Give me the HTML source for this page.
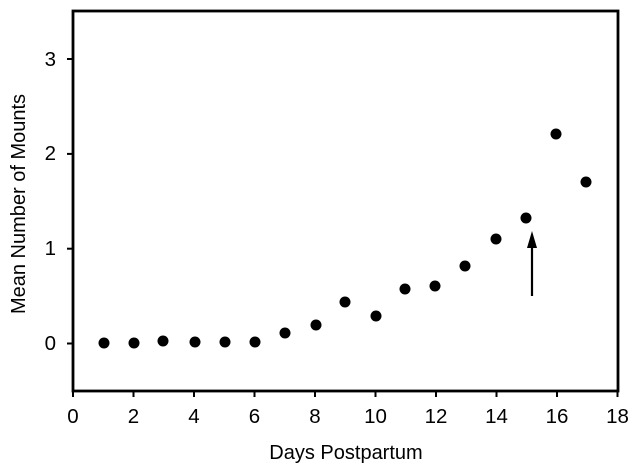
<!DOCTYPE html>
<html><head><style>body{margin:0;background:#fff}</style></head><body>
<svg width="640" height="469" xmlns="http://www.w3.org/2000/svg" font-family="Liberation Sans, Arial, sans-serif" fill="#000">
<rect x="73" y="11" width="545" height="380" fill="none" stroke="#000" stroke-width="2.8"/>
<g stroke="#000" stroke-width="2">
<line x1="73" y1="391" x2="73" y2="397"/><line x1="133.5" y1="391" x2="133.5" y2="397"/><line x1="194" y1="391" x2="194" y2="397"/><line x1="254.5" y1="391" x2="254.5" y2="397"/><line x1="315" y1="391" x2="315" y2="397"/><line x1="375.5" y1="391" x2="375.5" y2="397"/><line x1="436" y1="391" x2="436" y2="397"/><line x1="496.5" y1="391" x2="496.5" y2="397"/><line x1="557" y1="391" x2="557" y2="397"/><line x1="617.5" y1="391" x2="617.5" y2="397"/>
<line x1="67" y1="343.5" x2="73" y2="343.5"/><line x1="67" y1="248.7" x2="73" y2="248.7"/><line x1="67" y1="153.9" x2="73" y2="153.9"/><line x1="67" y1="59" x2="73" y2="59"/>
</g>
<g font-size="20.5" text-anchor="middle">
<text x="73" y="423">0</text><text x="133.5" y="423">2</text><text x="194" y="423">4</text><text x="254.5" y="423">6</text><text x="315" y="423">8</text><text x="375.5" y="423">10</text><text x="436" y="423">12</text><text x="496.5" y="423">14</text><text x="557" y="423">16</text><text x="617.5" y="423">18</text>
</g>
<g font-size="20.5" text-anchor="end">
<text x="56" y="350">0</text><text x="56" y="255">1</text><text x="56" y="160">2</text><text x="56" y="66">3</text>
</g>
<text x="346" y="459" font-size="20" text-anchor="middle">Days Postpartum</text>
<text transform="translate(25,204) rotate(-90)" font-size="20" text-anchor="middle">Mean Number of Mounts</text>
<g>
<circle cx="104" cy="343" r="5.5"/><circle cx="134" cy="343" r="5.5"/><circle cx="163" cy="341" r="5.5"/><circle cx="195" cy="342" r="5.5"/><circle cx="225" cy="342" r="5.5"/><circle cx="255" cy="342" r="5.5"/><circle cx="285" cy="333" r="5.5"/><circle cx="316" cy="325" r="5.5"/><circle cx="345" cy="302" r="5.5"/><circle cx="376" cy="316" r="5.5"/><circle cx="405" cy="289" r="5.5"/><circle cx="435" cy="286" r="5.5"/><circle cx="465" cy="266" r="5.5"/><circle cx="496" cy="239" r="5.5"/><circle cx="526" cy="218" r="5.5"/><circle cx="556" cy="134" r="5.5"/><circle cx="586" cy="182" r="5.5"/>
</g>
<line x1="532" y1="296" x2="532" y2="240" stroke="#000" stroke-width="2.2"/>
<polygon points="532,231 527,248 537,248"/>
</svg>
</body></html>
